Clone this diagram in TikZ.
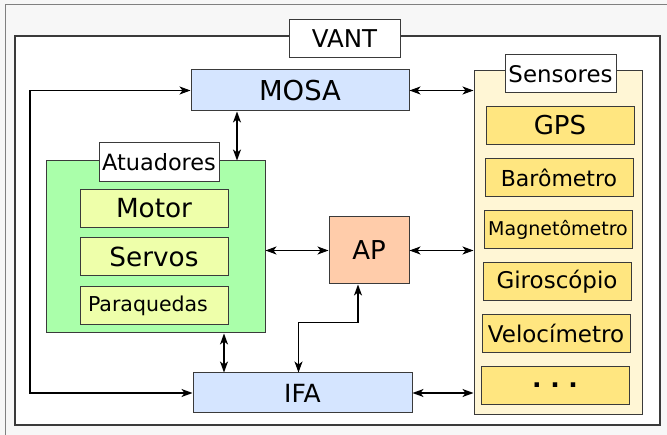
\documentclass[tikz,border=0pt]{standalone}
\usepackage{fontspec}
\setmainfont{DejaVu Sans}
\usetikzlibrary{arrows.meta,positioning,calc}

\definecolor{bggray}{HTML}{F7F7F7}
\definecolor{edge}{HTML}{3A3A3A}
\definecolor{modblue}{HTML}{D5E5FF}
\definecolor{actgreen}{HTML}{AAFFAA}
\definecolor{actitem}{HTML}{EEFFAA}
\definecolor{appeach}{HTML}{FFCCAA}
\definecolor{senspale}{HTML}{FFF6D5}
\definecolor{sensitem}{HTML}{FFE680}

\newcommand{\fsz}[1]{\fontsize{#1}{#1}\selectfont}

\begin{document}
\begin{tikzpicture}[x=1pt, y=-1pt, >={Stealth[length=11pt,width=8pt,inset=3pt]}, line width=1.1pt,
    box/.style={draw=edge, line width=1pt, inner sep=0pt},
    tag/.style={box, fill=white, minimum height=38pt},
    module/.style={box, fill=modblue, minimum width=218pt, minimum height=41pt, font=\fsz{27.4}},
    act/.style={box, fill=actitem, minimum width=148pt, minimum height=38pt},
    sens/.style={box, fill=sensitem, minimum width=148pt, minimum height=38pt}]

    \clip (0,0) rectangle (667,435);
    \fill[bggray] (0,0) rectangle (667,435);
    \draw[gray, line width=1pt] (5,450) -- (5,5) -- (680,5);

    % whole vehicle
    \node[box, line width=1.5pt, fill=white, minimum width=645pt, minimum height=389pt] (vant) at (337.5,230.5) {};
    \node[tag, minimum width=111pt, font=\fsz{24.5}] (vantlbl) at (344.5,39) {VANT};

    \node[module] (mosa) at (300,90.5) {MOSA};
    \node[module, minimum width=219pt, minimum height=40pt, font=\fsz{25}] (ifa) at (302.5,393) {IFA};
    \node[box, fill=appeach, minimum width=80pt, minimum height=67pt, font=\fsz{26}] (ap) at (369,250.5) {AP};

    % actuators
    \node[box, fill=actgreen, minimum width=219pt, minimum height=172pt] (atu) at (155.5,247) {};
    \node[tag, minimum width=120pt, minimum height=39pt, font=\fsz{22.4}] (atulbl) at (159,162.5) {Atuadores};
    \node[act, font=\fsz{26.3}] (motor) at (154,208.5) {Motor};
    \node[act, font=\fsz{26.3}] (servos) [below=9pt of motor] {Servos};
    \node[act, font=\fsz{20.5}, text width=132pt, inner xsep=8pt, align=left] (paraq) [below=10pt of servos] {Paraquedas};

    % sensors
    \node[box, fill=senspale, minimum width=168pt, minimum height=344pt] (sens) at (558,243) {};
    \node[tag, minimum width=111pt, font=\fsz{22.9}] (senslbl) at (560.5,74) {Sensores};
    \foreach \name/\txt/\fs [count=\i from 0] in {gps/GPS/26, baro/Barômetro/22, magn/Magnetômetro/19,
        giro/Giroscópio/23, velo/Velocímetro/23, more/\textbf{.\ .\ .}/25}
        \node[sens, font=\fsz{\fs}] (\name) at ({560-\i}, {125.5+52*\i}) {\txt};

    % links
    \coordinate (lft) at (30,0);
    \draw[<->] (mosa.east) -- (mosa.east -| sens.west);
    \draw[<->] ([xshift=-63pt]mosa.south) -- ([xshift=-63pt]mosa.south |- atu.north);
    \draw[<->] (ap.west -| atu.east) -- (ap.west);
    \draw[<->] (ap.east) -- (ap.east -| sens.west);
    \draw[<->] (ifa.east) -- (ifa.east -| sens.west);
    \draw[<->] ([xshift=68.5pt]atu.south) -- ([xshift=68.5pt]atu.south |- ifa.north);
    \draw[<->] ([xshift=-11pt]ap.south) -- ++(0,38) -| ([xshift=-4pt]ifa.north);
    \draw[<->] (mosa.west) -- (mosa.west -| lft) -- (ifa.west -| lft) -- (ifa.west);

\end{tikzpicture}
\end{document}
